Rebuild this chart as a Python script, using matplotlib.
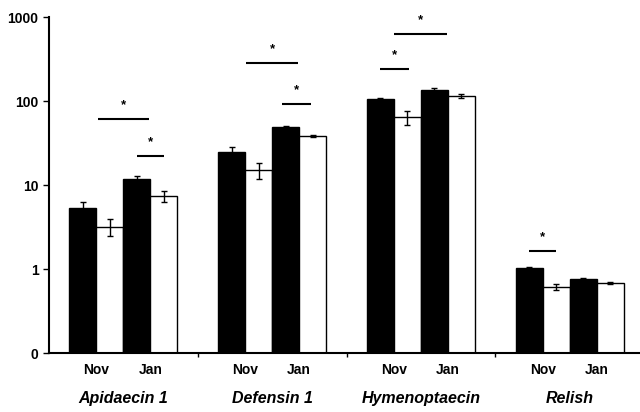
import numpy as np
import matplotlib.pyplot as plt

plt.rcParams['font.family'] = ['Liberation Sans', 'DejaVu Sans']

# values (log axis, lowest tick 0.1 shown as "0")
genes = ["Apidaecin 1", "Defensin 1", "Hymenoptaecin", "Relish"]
months = ["Nov", "Jan"]
black_nov = [5.3, 24.7, 106, 1.03]
black_nov_err = [1.0, 3.8, 3.5, 0.03]
white_nov = [3.2, 15.1, 64, 0.61]
white_nov_err = [0.75, 3.3, 12.5, 0.05]
black_jan = [11.8, 49, 135, 0.76]
black_jan_err = [0.9, 1.5, 7, 0.03]
white_jan = [7.4, 38.3, 115, 0.68]
white_jan_err = [1.2, 1.2, 6, 0.02]

# significance bars: (gene index, x start, x end in bar units within group, height)
sig_gene = [0, 0, 1, 1, 2, 2, 3]
sig_x0 = [0.55, 2.0, 0.55, 1.85, 0.5, 0.0, 0.0]
sig_x1 = [2.45, 3.0, 2.45, 2.95, 2.45, 1.05, 1.0]
sig_y = [61, 22, 283, 92, 628, 240, 1.64]

step = 5.5
starts = np.arange(len(genes)) * step

fig = plt.figure(figsize=(6.4, 4.12), dpi=100)
ax = fig.add_axes([0.0766, 0.1432, 0.9234, 0.8155])
ax.set_yscale('log')

ekw = dict(ecolor='black', elinewidth=1, capsize=2, capthick=1)
ax.bar(starts, black_nov, 1, color='black', edgecolor='black', linewidth=1,
       yerr=black_nov_err, error_kw=ekw, zorder=2)
ax.bar(starts + 1, white_nov, 1, color='white', edgecolor='black', linewidth=1,
       yerr=white_nov_err, error_kw=ekw, zorder=2)
ax.bar(starts + 2, black_jan, 1, color='black', edgecolor='black', linewidth=1,
       yerr=black_jan_err, error_kw=ekw, zorder=2)
ax.bar(starts + 3, white_jan, 1, color='white', edgecolor='black', linewidth=1,
       yerr=white_jan_err, error_kw=ekw, zorder=2)

for g, x0, x1, y in zip(sig_gene, sig_x0, sig_x1, sig_y):
    ax.plot([starts[g] + x0, starts[g] + x1], [y, y], color='black', lw=1.5,
            solid_capstyle='butt')
    ax.text(starts[g] + (x0 + x1) / 2, y * 1.25, "*", ha='center', va='bottom',
            fontsize=9.5, fontweight='bold')

ax.set_ylim(0.1, 1000)
ax.set_yticks([0.1, 1, 10, 100, 1000])
ax.set_yticklabels(["0", "1", "10", "100", "1000"])
ax.yaxis.set_minor_locator(plt.NullLocator())
ax.set_xlim(-1.25, 20.6)

# small ticks between groups
seps = starts[1:] - 1.25
ax.set_xticks(seps)
ax.set_xticklabels([])
ax.tick_params(axis='x', length=3, width=1, direction='out')
ax.tick_params(axis='y', length=4, width=1, direction='out', labelsize=10)
for lab in ax.get_yticklabels():
    lab.set_fontweight('bold')

for i, s in enumerate(starts):
    ax.text(s + 0.5, -0.05, months[0], transform=ax.get_xaxis_transform(),
            ha='center', va='center', fontsize=10, fontweight='bold')
    ax.text(s + 2.5, -0.05, months[1], transform=ax.get_xaxis_transform(),
            ha='center', va='center', fontsize=10, fontweight='bold')
    ax.text(s + 1.5, -0.135, genes[i], transform=ax.get_xaxis_transform(),
            ha='center', va='center', fontsize=11.5, fontweight='bold',
            fontstyle='italic')

for sp in ['top', 'right']:
    ax.spines[sp].set_visible(False)
ax.spines['left'].set_linewidth(1.5)
ax.spines['bottom'].set_linewidth(1.5)

fig.savefig("out.png", dpi=100)
